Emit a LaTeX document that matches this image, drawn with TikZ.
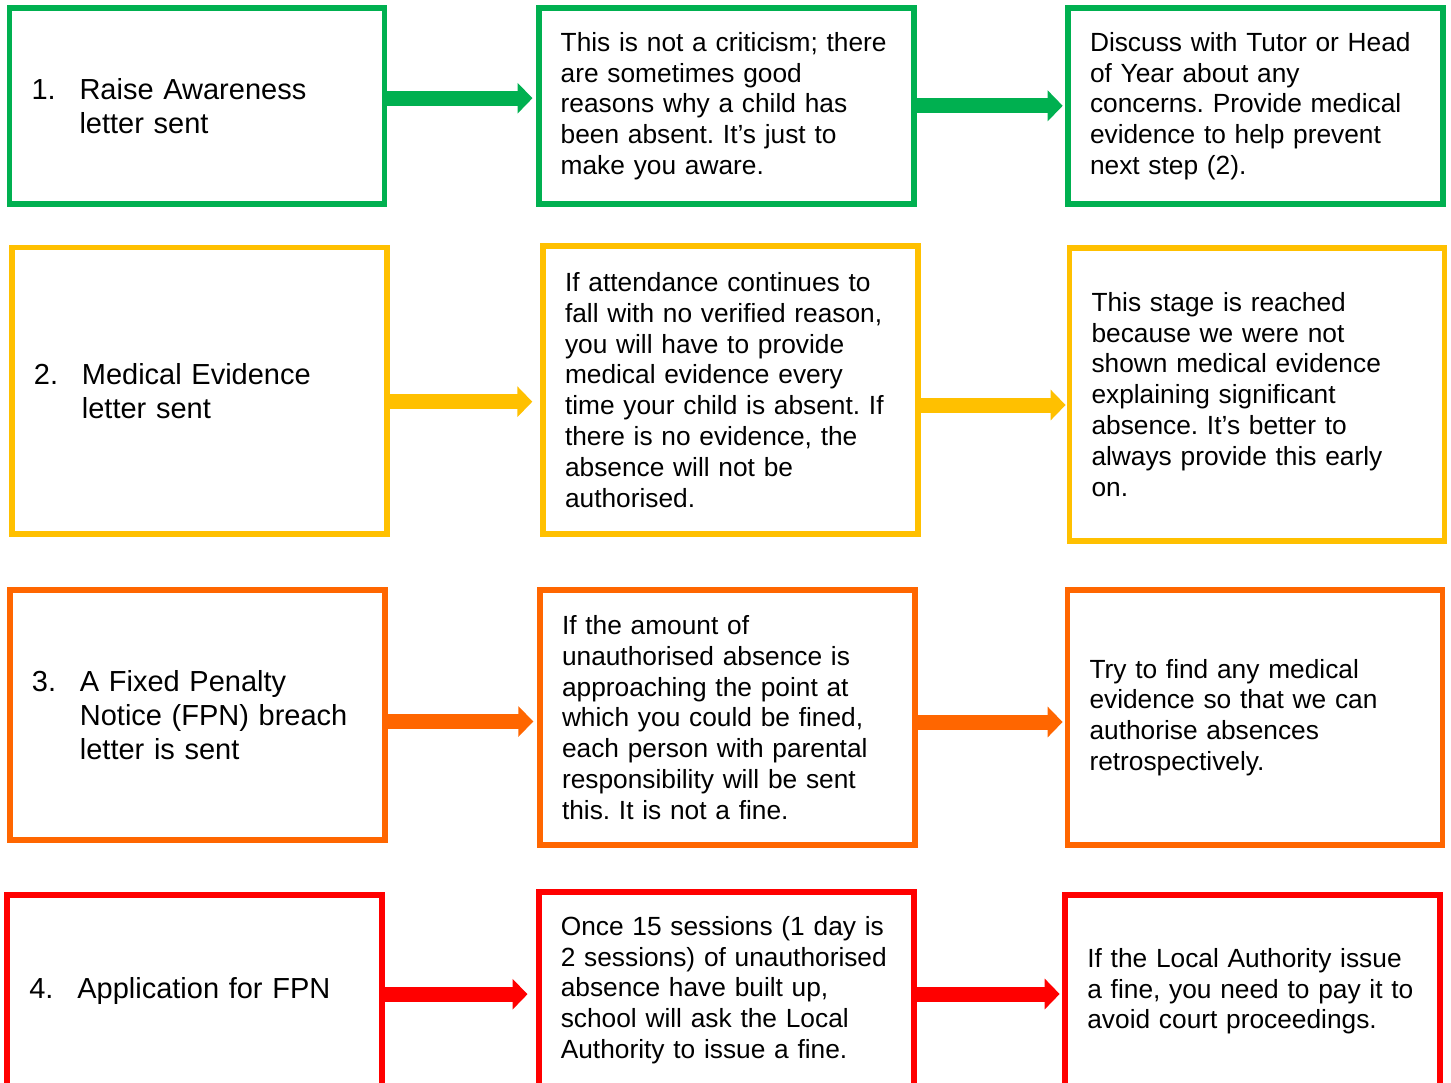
\documentclass[tikz,border=0pt]{standalone}
\usepackage{fontspec}
\setmainfont{Liberation Sans}
\usetikzlibrary{arrows.meta}
\definecolor{cgreen}{HTML}{00B050}
\definecolor{cyellow}{HTML}{FFC000}
\definecolor{corange}{HTML}{FF6600}
\definecolor{cred}{HTML}{FF0000}
\tikzset{
  box/.style={draw=#1, line width=2.9pt, rectangle, minimum width=187.5pt,
    text width=165.5pt, inner xsep=11pt, inner ysep=0pt, align=left,
    font=\fontsize{13.15}{15.4}\selectfont\frenchspacing, text=black},
  titlebox/.style={box=#1, font=\fontsize{14.5}{17}\selectfont\frenchspacing},
  arr/.style={draw=#1, line width=7.5pt, -{Triangle[width=15pt,length=7.5pt]}},
}
\newcommand{\numlbl}[1]{\makebox[24pt][l]{#1}}
\begin{document}
\frenchspacing
\begin{tikzpicture}[x=0.5pt,y=-0.5pt]
\useasboundingbox (0,0) rectangle (1451,1082);
\clip (0,0) rectangle (1451,1082);
% Row 1
\node[titlebox=cgreen, minimum height=97.75pt] (a1) at (197.05,106.05)
  {\numlbl{1.}Raise Awareness\\\hspace*{24pt}letter sent};
\node[box=cgreen, minimum height=97.75pt] (b1) at (726.2,106.05)
  {This is not a criticism; there\\are sometimes good\\reasons why a child has\\been absent. It’s just to\\make you aware.};
\node[box=cgreen, minimum height=97.75pt] (c1) at (1255.5,106.05)
  {Discuss with Tutor or Head\\of Year about any\\concerns. Provide medical\\evidence to help prevent\\next step (2).};
% Row 2
\node[titlebox=cyellow, minimum height=143.25pt] (a2) at (199.4,390.75)
  {\numlbl{2.}Medical Evidence\\\hspace*{24pt}letter sent};
\node[box=cyellow, minimum height=144.15pt] (b2) at (730.5,389.85)
  {If attendance continues to\\fall with no verified reason,\\you will have to provide\\medical evidence every\\time your child is absent. If\\there is no evidence, the\\absence will not be\\authorised.};
\node[box=cyellow, minimum height=146.35pt] (c2) at (1257,394.35)
  {This stage is reached\\because we were not\\shown medical evidence\\explaining significant\\absence. It’s better to\\always provide this early\\on.};
% Row 3
\node[titlebox=corange, minimum height=125.15pt] (a3) at (197.4,714.85)
  {\numlbl{3.}A Fixed Penalty\\\hspace*{24pt}Notice (FPN) breach\\\hspace*{24pt}letter is sent};
\node[box=corange, minimum height=127.8pt] (b3) at (727.5,717.5)
  {If the amount of\\unauthorised absence is\\approaching the point at\\which you could be fined,\\each person with parental\\responsibility will be sent\\this. It is not a fine.};
\node[box=corange, minimum height=127.8pt] (c3) at (1255,717.5)
  {Try to find any medical\\evidence so that we can\\authorise absences\\retrospectively.};
% Row 4
\node[titlebox=cred, minimum height=96.15pt] (a4) at (194.8,990.85)
  {\numlbl{4.}Application for FPN};
\node[box=cred, minimum height=97.85pt] (b4) at (726.3,990.15)
  {Once 15 sessions (1 day is\\2 sessions) of unauthorised\\absence have built up,\\school will ask the Local\\Authority to issue a fine.};
\node[box=cred, minimum height=96.65pt] (c4) at (1252.85,991.35)
  {If the Local Authority issue\\a fine, you need to pay it to\\avoid court proceedings.};
% arrow levels
\coordinate (y1a) at (0,98.2);
\coordinate (y1b) at (0,105.8);
\coordinate (y2a) at (0,401.7);
\coordinate (y2b) at (0,405);
\coordinate (y3a) at (0,721.5);
\coordinate (y3b) at (0,722);
\coordinate (y4a) at (0,994.2);
\coordinate (y4b) at (0,994);
% arrows
\draw[arr=cgreen, shorten >=1.65pt] (a1.east |- y1a) -- (b1.west |- y1a);
\draw[arr=cgreen, shorten >=1.2pt] (b1.east |- y1b) -- (c1.west |- y1b);
\draw[arr=cyellow, shorten >=3.9pt] (a2.east |- y2a) -- (b2.west |- y2a);
\draw[arr=cyellow, shorten >=0.5pt] (b2.east |- y2b) -- (c2.west |- y2b);
\draw[arr=corange, shorten >=1.9pt] (a3.east |- y3a) -- (b3.west |- y3a);
\draw[arr=corange, shorten >=1pt] (b3.east |- y3b) -- (c3.west |- y3b);
\draw[arr=cred, shorten >=4.2pt] (a4.east |- y4a) -- (b4.west |- y4a);
\draw[arr=cred, shorten >=1.4pt] (b4.east |- y4b) -- (c4.west |- y4b);
\end{tikzpicture}
\end{document}
